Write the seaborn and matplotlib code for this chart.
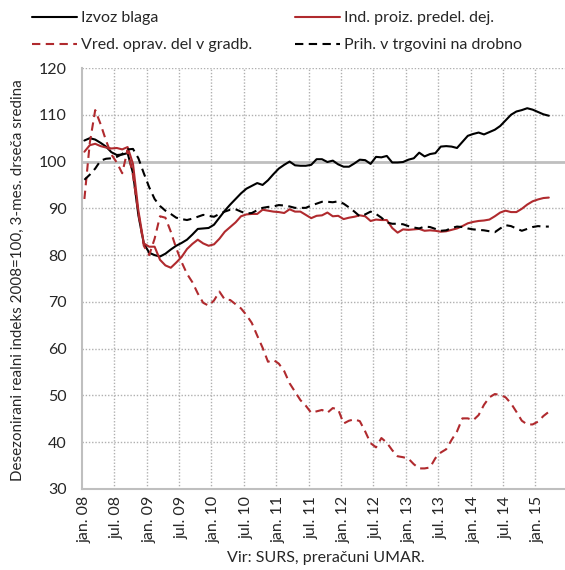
import numpy as np
import pandas as pd
import matplotlib
matplotlib.use("Agg")
import matplotlib.pyplot as plt
from matplotlib.lines import Line2D
import seaborn as sns

# ---- data (monthly, jan. 2008 - mar. 2015) ----
start_month = "2008-01"
n_months = 87

izvoz_blaga = [104.5, 105.0, 104.7, 104.0, 103.2, 102.0, 101.4, 101.5, 101.8, 97.5,
               88.5, 82.5, 80.5, 80.0, 79.7, 80.3, 81.2, 82.0, 82.6, 83.3,
               84.4, 85.6, 85.7, 85.8, 86.5, 88.0, 89.5, 90.8, 92.0, 93.2,
               94.2, 94.8, 95.4, 95.0, 96.0, 97.3, 98.5, 99.3, 100.0, 99.2,
               99.1, 99.1, 99.3, 100.5, 100.5, 99.9, 100.2, 99.4, 98.9, 98.9,
               99.6, 100.4, 100.3, 99.5, 101.0, 100.9, 101.2, 99.8, 99.8, 99.9,
               100.4, 100.7, 101.9, 101.1, 101.6, 101.8, 103.2, 103.3, 103.2, 102.9,
               104.2, 105.5, 105.9, 106.2, 105.8, 106.3, 106.8, 107.6, 108.8, 110.0,
               110.7, 111.0, 111.4, 111.1, 110.6, 110.1, 109.8]

ind_proiz = [102.1, 103.5, 103.8, 103.3, 103.0, 102.8, 102.9, 102.6, 103.1, 99.5,
             89.5, 82.5, 81.8, 81.8, 79.0, 77.8, 77.3, 78.4, 79.6, 81.3,
             82.4, 83.3, 82.5, 82.0, 82.3, 83.5, 85.0, 86.0, 87.0, 88.3,
             88.7, 88.8, 88.8, 89.7, 89.5, 89.3, 89.2, 89.0, 89.8, 89.3,
             89.3, 88.6, 87.9, 88.4, 88.5, 89.1, 88.3, 88.4, 87.7, 88.0,
             88.2, 88.5, 88.3, 87.3, 87.6, 87.5, 87.5, 85.8, 84.8, 85.5,
             85.4, 85.5, 85.6, 85.2, 85.3, 85.2, 85.0, 85.1, 85.4, 85.7,
             86.2, 86.8, 87.1, 87.3, 87.4, 87.6, 88.3, 89.1, 89.5, 89.2,
             89.2, 89.9, 90.8, 91.5, 91.9, 92.2, 92.3]

gradbenistvo = [92.0, 104.0, 111.0, 108.0, 104.5, 101.5, 99.8, 97.5, 102.5, 97.0,
                89.0, 82.0, 80.0, 83.5, 88.3, 88.0, 85.0, 81.5, 78.5, 76.0,
                74.2, 71.8, 69.8, 69.2, 70.3, 72.2, 70.5, 70.4, 69.5, 68.6,
                67.2, 65.5, 62.8, 60.2, 57.2, 57.6, 56.8, 55.2, 52.6, 50.8,
                49.0, 47.8, 46.3, 46.6, 46.9, 46.3, 47.3, 47.0, 44.0, 44.6,
                44.9, 44.5, 42.3, 39.8, 38.9, 40.9, 39.9, 38.3, 37.0, 36.8,
                36.5, 35.3, 34.4, 34.4, 34.6, 36.6, 37.8, 38.5, 40.5, 42.3,
                45.1, 45.1, 44.7, 45.8, 48.0, 49.6, 50.3, 50.1, 49.6, 48.3,
                46.5, 44.6, 43.8, 43.8, 44.4, 45.6, 46.5]

trgovina = [96.1, 97.2, 98.5, 100.2, 100.6, 100.7, 101.0, 101.6, 102.6, 102.7,
            100.7, 97.5, 94.5, 92.0, 90.5, 89.5, 88.8, 88.0, 87.7, 87.5,
            87.8, 88.2, 88.6, 88.4, 88.2, 88.8, 89.3, 89.7, 89.8, 89.3,
            88.9, 89.0, 89.6, 90.1, 90.3, 90.4, 90.7, 90.6, 90.4, 90.1,
            90.1, 90.1, 90.6, 91.0, 91.4, 91.4, 91.3, 91.5, 91.0, 90.2,
            89.3, 88.3, 88.7, 89.3, 88.8, 88.0, 87.0, 86.7, 86.7, 86.6,
            86.2, 85.9, 85.7, 86.1, 86.0, 85.6, 85.2, 85.3, 85.8, 86.1,
            86.0, 85.7, 85.5, 85.4, 85.3, 85.1, 84.9, 85.7, 86.4, 86.2,
            85.7, 85.2, 85.6, 86.0, 86.2, 86.1, 86.1]

series_names = ["Izvoz blaga", "Vred. oprav. del v gradb.",
                "Ind. proiz. predel. dej.", "Prih. v trgovini na drobno"]
tick_labels = ["jan. 08", "jul. 08", "jan. 09", "jul. 09", "jan. 10", "jul. 10",
               "jan. 11", "jul. 11", "jan. 12", "jul. 12", "jan. 13", "jul. 13",
               "jan. 14", "jul. 14", "jan. 15"]

# ---- style ----
sns.set_style("white")
plt.rcParams["font.family"] = ["Lato", "DejaVu Sans"]
FS = 11.5
RED = "#B02A2E"
GRID = "#BFBFBF"

fig = plt.figure(figsize=(5.65, 5.70), dpi=100)
ax = fig.add_axes([81.7 / 565, 1 - 489 / 570, 1 - 81.7 / 565, (489 - 68) / 570])

idx = np.arange(n_months)
df = pd.DataFrame({
    "m": np.tile(idx, 4),
    "v": np.concatenate([izvoz_blaga, gradbenistvo, ind_proiz, trgovina]),
    "s": np.repeat(series_names, n_months),
})

colors = {series_names[0]: "black", series_names[1]: RED,
          series_names[2]: RED, series_names[3]: "black"}
dash = (4, 2.6)
dashes = {series_names[0]: "", series_names[1]: dash,
          series_names[2]: "", series_names[3]: dash}

# grid first
for yv in range(30, 121, 10):
    if yv == 100:
        ax.axhline(yv, color=GRID, lw=2.0, zorder=1)
    elif yv != 30:
        ax.axhline(yv, color="#B0B0B0", lw=1.0, ls=(0, (1, 1.3)), zorder=1)
for k in range(1, 15):
    ax.axvline(-0.5 + 6 * k, color="#B0B0B0", lw=1.0, ls=(0, (1, 1.3)), zorder=1)

sns.lineplot(data=df, x="m", y="v", hue="s", style="s", palette=colors,
             dashes=dashes, linewidth=1.5, legend=False, ax=ax, zorder=3,
             hue_order=series_names, style_order=series_names)

ax.set_xlim(-0.5, 89.0)
ax.set_ylim(30, 120)
ax.set_yticks(range(30, 121, 10))
ax.set_xticks(np.arange(0, 85, 6))
ax.set_xticklabels(tick_labels, rotation=90, fontsize=FS)
ax.tick_params(axis="y", labelsize=FS, length=0, pad=11)
ax.tick_params(axis="x", length=0, pad=5)
ax.set_xlabel("")
ax.set_ylabel("")
for s in ["top", "right"]:
    ax.spines[s].set_visible(False)
for s in ["left", "bottom"]:
    ax.spines[s].set_color(GRID)
    ax.spines[s].set_linewidth(1.5)

fig.text(18 / 565, 1 - 280 / 570,
         "Desezonirani realni indeks 2008=100, 3-mes. drseča sredina",
         rotation=90, ha="center", va="center", fontsize=10.9)
fig.text(326 / 565, 1 - 558 / 570, "Vir: SURS, preračuni UMAR.",
         ha="center", va="center", fontsize=FS)

handles = [Line2D([], [], color="black", lw=1.5),
           Line2D([], [], color=RED, lw=1.5, dashes=dash),
           Line2D([], [], color=RED, lw=1.5),
           Line2D([], [], color="black", lw=1.5, dashes=dash)]
fig.legend(handles, series_names, ncol=2, loc="upper left",
           bbox_to_anchor=(32 / 565, 1 - 11 / 570), frameon=False,
           fontsize=FS, handlelength=2.8, handletextpad=0.25,
           columnspacing=2.7, labelspacing=0.8, borderpad=0, borderaxespad=0)

fig.savefig("out.png", dpi=100)
